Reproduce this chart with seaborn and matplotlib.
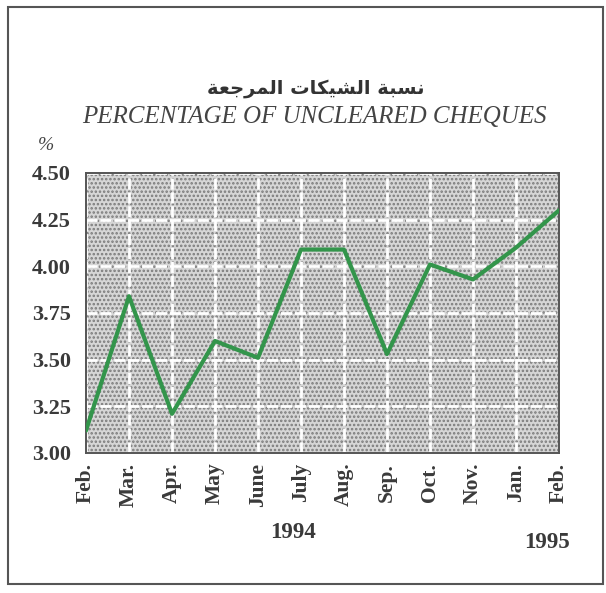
import matplotlib
matplotlib.use("Agg")
import matplotlib.pyplot as plt
from matplotlib.patches import Rectangle
import seaborn as sns
import pandas as pd

months = ["Feb.", "Mar.", "Apr.", "May", "June", "July", "Aug.",
          "Sep.", "Oct.", "Nov.", "Jan.", "Feb."]
values = [3.12, 3.84, 3.21, 3.60, 3.51, 4.09, 4.09, 3.53, 4.01, 3.93, 4.10, 4.30]
yticks = [3.00, 3.25, 3.50, 3.75, 4.00, 4.25, 4.50]
title_en = "PERCENTAGE OF UNCLEARED CHEQUES"
# Arabic title "نسبة الشيكات المرجعة" in presentation forms, visual order
title_ar = ("\ufe94\ufecc\ufe9f\ufeae\ufee4\ufedf\ufe8d "
            "\ufe95\ufe8e\ufedc\ufef4\ufeb8\ufedf\ufe8d "
            "\ufe94\ufe92\ufeb4\ufee7")

sns.set_theme(style="white")
plt.rcParams["font.family"] = ["Liberation Serif", "DejaVu Sans"]
plt.rcParams["hatch.linewidth"] = 1.2
plt.rcParams["hatch.color"] = "#707070"

df = pd.DataFrame({"pos": range(len(months)), "pct": values})

fig = plt.figure(figsize=(6.06, 5.93), dpi=100)
ax = fig.add_axes([86 / 606, 1 - 453 / 593, 473 / 606, 280 / 593])
ax.set_facecolor("#d6d6d6")
ax.add_patch(Rectangle((0, 0), 1, 1, transform=ax.transAxes, facecolor="#d6d6d6",
                       hatch="....", edgecolor="#7a7a7a", lw=0, zorder=0))

sns.lineplot(data=df, x="pos", y="pct", ax=ax, color="#33954b", lw=3, zorder=3)

ax.set_xlim(0, len(months) - 1)
ax.set_ylim(3.0, 4.5)
ax.set_xticks(range(len(months)))
ax.set_xticklabels(months, rotation=90, fontweight="bold", fontsize=15.5, color="#3a3a3a")
ax.set_yticks(yticks)
ax.set_yticklabels([f"{v:.2f}" for v in yticks], fontweight="bold", fontsize=16, color="#3a3a3a")
ax.tick_params(axis="x", direction="inout", length=8, width=1.3, color="#555555", pad=3)
ax.tick_params(axis="y", direction="out", length=5, width=1.3, color="#555555", pad=6)
ax.grid(True, color="white", lw=2.0, ls=(0, (4, 1)), zorder=1)
ax.set_axisbelow(True)
for s in ax.spines.values():
    s.set_color("#555555")
    s.set_linewidth(1.4)
ax.set_xlabel("")
ax.set_ylabel("")

fig.text(316 / 606, 1 - 88 / 593, title_ar, ha="center", va="center",
         fontsize=14, fontweight="bold",
         family=["DejaVu Sans"], color="#333333")
fig.text(314 / 606, 1 - 117 / 593, title_en, ha="center", va="center",
         fontsize=18, style="italic", color="#444444")
fig.text(46 / 606, 1 - 146 / 593, "%", ha="center", va="center",
         fontsize=14, style="italic", color="#444444")
fig.text(293 / 606, 1 - 533 / 593, "1994", ha="center", va="center",
         fontsize=16.5, fontweight="bold", color="#3a3a3a")
fig.text(547 / 606, 1 - 542 / 593, "1995", ha="center", va="center",
         fontsize=16.5, fontweight="bold", color="#3a3a3a")

fig.add_artist(Rectangle((8 / 606, 1 - 584 / 593), 595 / 606, 577 / 593,
                         transform=fig.transFigure, fill=False, lw=1.5, ec="#555555"))

fig.savefig("out.png", dpi=100, facecolor="white")
